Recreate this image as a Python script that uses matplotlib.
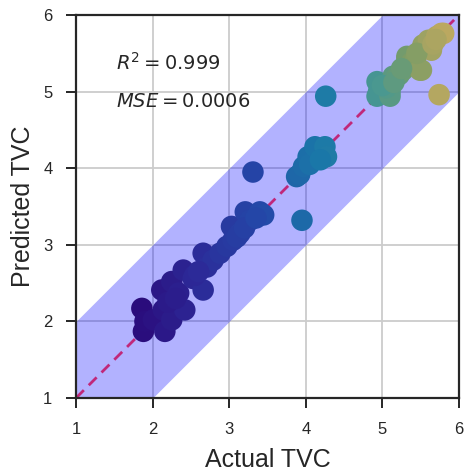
import matplotlib
matplotlib.use("Agg")
import matplotlib.pyplot as plt
import numpy as np
from matplotlib.colors import LinearSegmentedColormap

plt.rcParams['font.family'] = ['Liberation Sans', 'DejaVu Sans']
plt.rcParams['mathtext.fontset'] = 'dejavusans'

# actual vs predicted TVC
actual = [1.86, 1.88, 1.90, 2.01, 2.16, 2.14, 2.25, 2.12, 2.25, 2.40, 2.34, 2.42,
          2.53, 2.66, 2.66, 2.71, 2.79, 2.88, 2.97, 3.03, 3.05, 3.14, 3.21, 3.27,
          3.40, 3.45, 3.31, 3.95, 2.20, 2.30, 2.55, 2.60, 3.10, 3.20, 3.35,
          3.88, 3.92, 3.97, 4.03, 4.05, 4.12, 4.25, 4.27, 4.19, 4.26,
          4.95, 4.93, 4.93, 5.10, 5.10, 5.05, 5.14, 5.19, 5.22, 5.27, 5.32, 5.32,
          5.38, 5.43, 5.51, 5.49, 5.53, 5.53, 5.58, 5.64, 5.60, 5.71, 5.77, 5.80, 5.74,
          5.00, 5.15, 5.25, 5.45, 5.66, 5.70]
predicted = [2.17, 1.87, 2.00, 2.02, 1.87, 2.15, 2.02, 2.41, 2.52, 2.67, 2.37, 2.15,
             2.56, 2.41, 2.89, 2.71, 2.80, 2.89, 2.98, 3.24, 3.06, 3.15, 3.43, 3.32,
             3.43, 3.39, 3.95, 3.32, 2.25, 2.30, 2.60, 2.65, 3.10, 3.22, 3.35,
             3.89, 3.92, 4.02, 4.15, 4.05, 4.28, 4.28, 4.15, 4.11, 4.94,
             5.00, 5.13, 4.94, 5.00, 4.94, 5.05, 5.20, 5.20, 5.22, 5.28, 5.43, 5.46,
             5.38, 5.41, 5.28, 5.28, 5.61, 5.59, 5.58, 5.54, 5.67, 5.72, 5.76, 5.76, 4.96,
             5.08, 5.12, 5.30, 5.50, 5.62, 5.68]
r2_text = r'$R^2 = 0.999$'
mse_text = r'$MSE = 0.0006$'
ticks = [1, 2, 3, 4, 5, 6]

cmap = LinearSegmentedColormap.from_list('tvc', [
    (0.0, '#2a0a7a'), (0.2, '#2c2a98'), (0.4, '#2448a8'), (0.6, '#1a78a8'),
    (0.8, '#4a9890'), (0.9, '#7c9c66'), (1.0, '#bba860')])

fig = plt.figure(figsize=(4.65, 4.71), dpi=100)
ax = fig.add_axes([76 / 465, 73 / 471, 383 / 465, 383 / 471])

# +/- 1 band around the identity line
xs = np.linspace(1, 6, 200)
ax.fill_between(xs, np.clip(xs - 1, 1, 6), np.clip(xs + 1, 1, 6),
                color='blue', alpha=0.3, lw=0, zorder=1)
ax.plot([1, 6], [1, 6], ls=(0, (4, 2.5)), color='#c0287a', lw=2, zorder=2)
ax.scatter(actual, predicted, c=actual, cmap=cmap, vmin=1.8, vmax=5.8,
           s=240, edgecolors='none', zorder=3)

ax.text(1.52, 5.28, r2_text, fontsize=14, color='#262626', zorder=4)
ax.text(1.52, 4.80, mse_text, fontsize=14, color='#262626', zorder=4)

ax.set_xlim(1, 6)
ax.set_ylim(1, 6)
ax.set_xticks(ticks)
ax.set_yticks(ticks)
ax.grid(True, color='#cccccc', lw=1.3, zorder=0)
ax.set_axisbelow(True)
for s in ax.spines.values():
    s.set_color('#262626')
    s.set_linewidth(1.6)
ax.tick_params(length=7, width=1.4, color='#262626', pad=10,
               labelsize=12, labelcolor='#262626')
ax.set_xlabel('Actual TVC', fontsize=18, color='#262626', labelpad=8)
ax.set_ylabel('Predicted TVC', fontsize=18, color='#262626', labelpad=6)

fig.savefig('out.png', dpi=100)
